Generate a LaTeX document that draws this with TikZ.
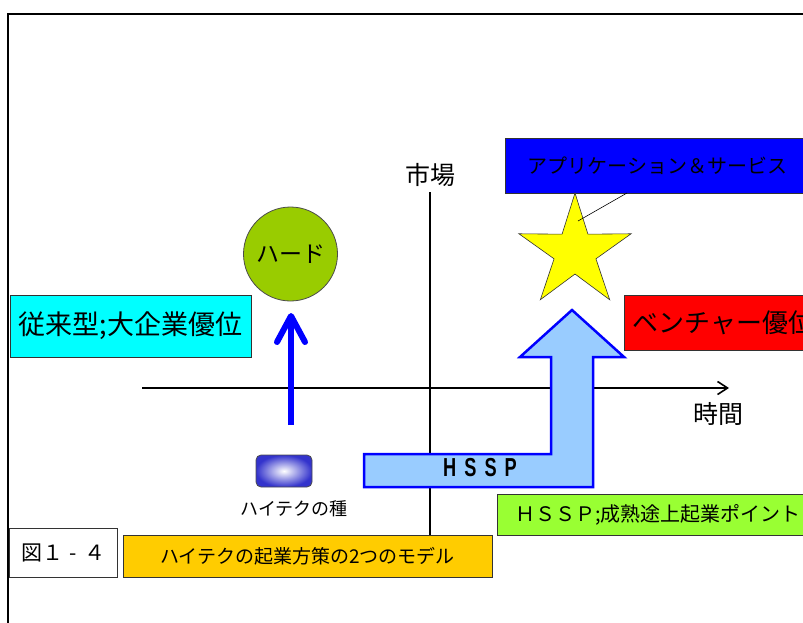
\documentclass[tikz,border=0pt]{standalone}
\usepackage{fontspec}
\usepackage{graphicx}
\newfontfamily\jp{Noto Sans CJK JP}
\newfontfamily\lsans{Liberation Sans}
\usetikzlibrary{shapes.geometric,arrows.meta,calc}
\definecolor{hardgreen}{HTML}{99CC00}
\definecolor{lightblue}{HTML}{99CCFF}
\definecolor{limegreen}{HTML}{99FF33}
\definecolor{gold}{HTML}{FFCC00}
\definecolor{seedblue}{HTML}{3333CC}
\definecolor{brightcyan}{HTML}{00FFFF}
\definecolor{pureblue}{HTML}{0000FF}
\definecolor{purered}{HTML}{FF0000}
\definecolor{pureyellow}{HTML}{FFFF00}
\tikzset{
  jpfont/.style={font=\jp\fontsize{#1}{#1}\selectfont},
  box/.style={draw=black!80, line width=0.8pt, inner sep=0pt, text=black},
  axisline/.style={line width=2pt, black},
  upstroke/.style={pureblue, line width=6pt, line cap=round, line join=round},
}
\begin{document}
\begin{tikzpicture}[x=1pt,y=-1pt]
\useasboundingbox (0,0) rectangle (803,623);
% frame
\draw[line width=2pt] (8,624) -- (8,14) -- (804,14);

% axes
\coordinate (xo) at (142,388);
\coordinate (xe) at (729,388);
\coordinate (yt) at (430,192);
\coordinate (yb) at (430,535);
\draw[axisline, -{Straight Barb[length=10pt,width=13pt,line width=1.6pt]}] (xo) -- (xe);
\draw[axisline] (yb) -- (yt);
\node[jpfont=25] (ichiba) at (430,175) {市場};
\node[jpfont=25] (jikan) at (718,414) {時間};

% left side
\node[box, fill=brightcyan, minimum width=241pt, minimum height=62pt, jpfont=27] (juurai) at (130.5,326) {従来型;大企業優位};
\node[circle, draw=black!70, line width=0.8pt, fill=hardgreen, minimum size=94pt, inner sep=0pt, jpfont=23] (hard) at (290.5,254) {ハード};
\coordinate (bs) at (291,425);
\coordinate (bt) at (291,316);
\draw[upstroke, line cap=butt] (bs) -- (bt);
\draw[upstroke] ($(bt)+(-14,26)$) -- (bt) -- ($(bt)+(14,26)$);
\node[draw=black!70, line width=0.8pt, rounded corners=5pt, minimum width=56pt, minimum height=32pt, inner color=white, outer color=seedblue] (seed) at (284,471) {};
\node[jpfont=18] (seedlabel) at (294,509) {ハイテクの種};

% HSSP arrow
\draw[draw=pureblue, fill=lightblue, line width=2.5pt, line join=miter]
  (364,487) -- (593,487) -- (593,357) -- (624,357) -- (572,310) -- (520,357)
  -- (551,357) -- (551,454) -- (364,454) -- cycle;
\node[font=\lsans\bfseries\fontsize{26}{26}\selectfont] (hssp) at (480,468)
  {\scalebox{0.7}[1]{H}\hspace{8pt}\scalebox{0.7}[1]{S}\hspace{8pt}\scalebox{0.7}[1]{S}\hspace{8pt}\scalebox{0.7}[1]{P}};

% right side
\node[box, fill=pureblue, minimum width=305pt, minimum height=55pt, jpfont=20] (app) at (657.5,165.5) {アプリケーション＆サービス};
\node[star, star points=5, star point ratio=2.68, minimum size=118pt, inner sep=0pt, draw=black!80, line width=0.6pt, fill=pureyellow] (star) at (575,252) {};
\coordinate (cs) at (578,221);
\coordinate (ce) at (627,193);
\draw[line width=0.6pt] (cs) -- (ce);
\node[box, fill=purered, anchor=west, minimum height=55pt, text width=200pt, inner xsep=8pt, align=left, jpfont=26] (venture) at (624,322.5) {ベンチャー優位};
\node[box, fill=limegreen, anchor=west, minimum height=41pt, text width=300pt, inner xsep=18pt, align=left, jpfont=20] (hsspbox) at (497,514.5) {ＨＳＳＰ;成熟途上起業ポイント};

% bottom
\node[box, fill=white, minimum width=108pt, minimum height=49pt, jpfont=21] (zu) at (63,552.5) {図１\makebox[1em]{-}４};
\node[box, fill=gold, minimum width=369pt, minimum height=42pt, jpfont=19] (title) at (307.5,556) {ハイテクの起業方策の2つのモデル};
\end{tikzpicture}
\end{document}
